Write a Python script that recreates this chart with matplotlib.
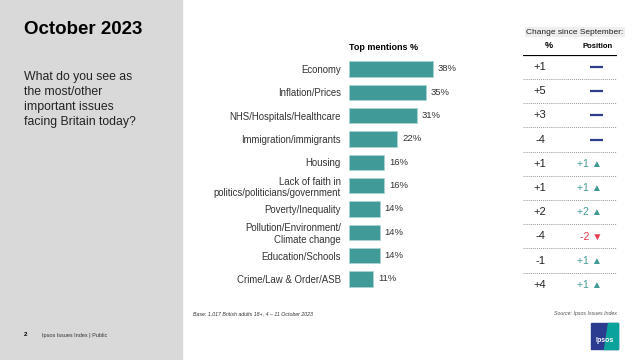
import matplotlib.pyplot as plt
from matplotlib.patches import Rectangle, Polygon

plt.rcParams['font.family'] = ['Liberation Sans', 'DejaVu Sans']

# data
issues = ["Economy", "Inflation/Prices", "NHS/Hospitals/Healthcare",
          "Immigration/immigrants", "Housing",
          "Lack of faith in\npolitics/politicians/government",
          "Poverty/Inequality", "Pollution/Environment/\nClimate change",
          "Education/Schools", "Crime/Law & Order/ASB"]
mentions = [38, 35, 31, 22, 16, 16, 14, 14, 14, 11]
pct_change = ["+1", "+5", "+3", "-4", "+1", "+1", "+2", "-4", "-1", "+4"]
pos_change = [0, 0, 0, 0, 1, 1, 2, -2, 1, 1]

W, H = 641, 360
teal = "#3f9a98"
navy = "#2d3e8c"
red = "#e8364b"

fig = plt.figure(figsize=(W / 100, H / 100), dpi=100)


def fx(x):
    return x / W


def fy(y):
    return 1 - y / H


# left grey panel
fig.patches.append(Rectangle((0, 0), fx(182), 1, transform=fig.transFigure,
                             color="#d9d9d9", zorder=0))
fig.text(fx(24), fy(30), "October 2023", fontsize=13.5, fontweight="bold",
         va="center", ha="left")
fig.text(fx(24), fy(71), "What do you see as\nthe most/other\nimportant issues\nfacing Britain today?",
         fontsize=8.8, va="top", ha="left", linespacing=1.35, color="#222222")
fig.text(fx(24), fy(335), "2", fontsize=4.5, fontweight="bold", va="center")
fig.text(fx(42), fy(335), "Ipsos Issues Index | Public", fontsize=4, va="center",
         color="#333333")

# bar chart
top, step = 69, 23.33
ax = fig.add_axes([fx(349), fy(top + step * 9.5), 110 / W, step * 10 / H])
ypos = list(range(len(issues)))
ax.barh(ypos, mentions, height=0.66, color=teal, edgecolor="#a8d4d2", linewidth=0.6)
for y, v in zip(ypos, mentions):
    ax.text(v + 2.2, y, f"{v}%", va="center", ha="left", fontsize=6.8, color="#333333")
ax.set_xlim(0, 50)
ax.set_ylim(9.5, -0.5)
ax.set_yticks(ypos)
ax.set_yticklabels(issues, fontsize=6.9, color="#333333")
ax.tick_params(axis="y", length=0, pad=6)
ax.set_xticks([])
for s in ax.spines.values():
    s.set_visible(False)
ax.patch.set_alpha(0)
fig.text(fx(349), fy(48), "Top mentions %", fontsize=6.5, fontweight="bold",
         va="center", ha="left")

# change table
ttop, tstep = 67, 24.2
tx = fig.add_axes([fx(523), fy(ttop + tstep * 9.5), 94 / W, tstep * 10 / H])
tx.set_xlim(0, 94)
tx.set_ylim(9.5, -0.5)
tx.axis("off")
tx.axhline(-0.5, color="black", linewidth=1.6)
for i in range(len(issues)):
    tx.axhline(i + 0.5, color="#999999", linewidth=0.7, linestyle=(0, (1, 1)))
    tx.text(17, i, pct_change[i], ha="center", va="center", fontsize=8, color="#222222")
    c = pos_change[i]
    if c == 0:
        tx.plot([67, 80], [i, i], color=navy, linewidth=1.6, solid_capstyle="butt")
    elif c > 0:
        tx.text(79, i, f"+{c} \u25b2", ha="right", va="center", fontsize=7.5, color=teal)
    else:
        tx.text(79, i, f"{c} \u25bc", ha="right", va="center", fontsize=7.5, color=red)

fig.text(fx(575), fy(32), "Change since September:", fontsize=6, ha="center",
         va="center", color="#222222",
         bbox=dict(boxstyle="square,pad=0.15", facecolor="#eeeeee", edgecolor="none"))
fig.text(fx(549), fy(46), "%", fontsize=6.5, fontweight="bold", ha="center", va="center")
fig.text(fx(598), fy(46), "Position", fontsize=5.5, fontweight="bold", ha="center", va="center")

# footer
fig.text(fx(193), fy(314), "Base: 1,017 British adults 18+, 4 \u2013 11 October 2023",
         fontsize=3.8, style="italic", va="center", ha="left", color="#333333")
fig.text(fx(617), fy(313), "Source: Ipsos Issues Index", fontsize=3.8, style="italic",
         va="center", ha="right", color="#555555")

# logo
fig.patches.append(Rectangle((fx(591), fy(349)), 27 / W, 26 / H, transform=fig.transFigure,
                             color="#2b3b8f", zorder=2))
fig.patches.append(Polygon([(fx(604), fy(349)), (fx(618), fy(349)), (fx(618), fy(323)),
                            (fx(608), fy(323))], closed=True, transform=fig.transFigure,
                           color="#0aa39c", zorder=2))
fig.text(fx(604.5), fy(341), "Ipsos", fontsize=5, color="white", ha="center",
         va="center", fontweight="bold", zorder=3)

fig.savefig("out.png", dpi=100)
